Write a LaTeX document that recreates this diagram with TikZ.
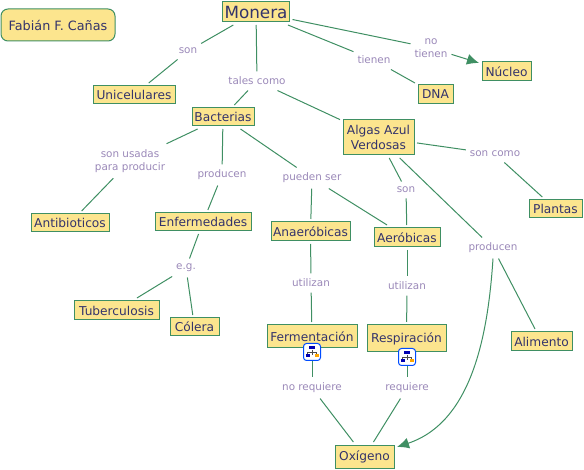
\documentclass[tikz,border=0pt]{standalone}
\usepackage{fontspec}
\setmainfont{DejaVu Sans}
\usetikzlibrary{arrows.meta}
\definecolor{fillc}{HTML}{FCE58E}
\definecolor{edgec}{HTML}{3F8F63}
\definecolor{inkc}{HTML}{33336B}
\definecolor{labc}{HTML}{9A88B8}
\tikzset{
 box/.style={draw=edgec,line width=1pt,fill=fillc,text=inkc,font=\fontsize{12.2}{14.5}\selectfont,align=center,inner sep=0pt,outer sep=3pt},
 lab/.style={text=labc,font=\fontsize{10.4}{13.5}\selectfont,align=center,inner sep=1pt,outer xsep=3pt,outer ysep=4.5pt},
 con/.style={edgec,line width=1pt},
 arr/.style={con,-{Latex[length=12pt,width=11pt,fill=edgec]}},
 ico/.pic={
  \draw[blue!70!cyan,fill=white,rounded corners=3pt,line width=1pt] (-8.5,-8.5) rectangle (8.5,8.5);
  \draw[black!70,line width=.6pt] (0,-2)--(0,3) (-4.5,3)--(-4.5,0.5)--(4.5,0.5)--(4.5,3);
  \fill[blue!70!black] (-3,-6) rectangle (3,-3);
  \fill[blue!70!black] (-6.5,2.5) rectangle (-2.5,5.5);
  \fill[orange!70!yellow] (2.5,2.5) rectangle (6.5,5.5);
 }
}
\begin{document}
\begin{tikzpicture}[x=1pt,y=-1pt]
\useasboundingbox (0,0) rectangle (584,470);
\newcommand{\cbox}[6]{\node[box,minimum width=#4 pt,minimum height=#5 pt] (#1) at (#2,#3) {#6};}
\cbox{monera}{256}{12}{67}{20}{\fontsize{16.8}{18}\selectfont Monera}
\node[box,rounded corners=7pt,minimum width=114pt,minimum height=32pt,font=\fontsize{12.8}{14}\selectfont] (author) at (58,25) {Fabián F. Cañas};
\cbox{uni}{134}{95}{82}{18}{Unicelulares}
\cbox{bac}{223}{117}{62}{18}{Bacterias}
\cbox{alg}{378.5}{137.5}{71}{35}{Algas Azul\\Verdosas}
\cbox{dna}{435.5}{94.5}{35}{19}{DNA}
\cbox{nuc}{506.5}{71.5}{49}{19}{Núcleo}
\cbox{pla}{555.5}{209}{53}{18}{Plantas}
\cbox{ant}{70}{223}{78}{18}{Antibioticos}
\cbox{enf}{203}{222}{96}{18}{Enfermedades}
\cbox{ana}{310.5}{231.5}{79}{19}{Anaeróbicas}
\cbox{aer}{407}{237.5}{66}{19}{Aeróbicas}
\cbox{tub}{116.5}{310.5}{85}{19}{Tuberculosis}
\cbox{col}{194.5}{327}{49}{18}{Cólera}
\cbox{fer}{312}{336.5}{90}{23}{Fermentación}
\cbox{res}{406.5}{338.5}{79}{27}{Respiración}
\cbox{ali}{541.5}{341.5}{61}{19}{Alimento}
\cbox{oxi}{364.5}{456.5}{59}{23}{Oxígeno}

\node[lab] (lson) at (188,51) {son};
\node[lab] (ltal) at (257,81) {tales como};
\node[lab] (lten) at (374,60) {tienen};
\node[lab] (lnot) at (431,48) {no\\tienen};
\node[lab] (lusa) at (130,161) {son usadas\\para producir};
\node[lab] (lpro) at (222,175) {producen};
\node[lab] (lpue) at (312,178) {pueden ser};
\node[lab] (lcom) at (495,154) {son como};
\node[lab] (lso2) at (406,190) {son};
\node[lab] (lpr2) at (493,248) {producen};
\node[lab] (leg) at (186,268) {e.g.};
\node[lab] (lut1) at (311,283) {utilizan};
\node[lab] (lut2) at (407,286) {utilizan};
\node[lab] (lnor) at (312,388) {no requiere};
\node[lab] (lreq) at (407,388) {requiere};
\coordinate (cfer) at (312,352);
\coordinate (cres) at (407,357);
\coordinate (tip) at (397,447);

\draw[con] (monera)--(lson);
\draw[con] (lson)--(uni);
\draw[con] (monera)--(ltal);
\draw[con] (ltal)--(bac);
\draw[con] (ltal)--(alg);
\draw[con] (monera)--(lten);
\draw[con] (lten)--(dna);
\draw[con] (monera)--(lnot);
\draw[arr] (lnot)--(nuc);
\draw[con] (bac)--(lusa);
\draw[con] (lusa)--(ant);
\draw[con] (bac)--(lpro);
\draw[con] (lpro)--(enf);
\draw[con] (bac)--(lpue);
\draw[con] (lpue)--(ana);
\draw[con] (lpue)--(aer);
\draw[con] (alg)--(lcom);
\draw[con] (lcom)--(pla);
\draw[con] (alg)--(lso2);
\draw[con] (lso2)--(aer);
\draw[con] (alg)--(lpr2);
\draw[con] (lpr2)--(ali);
\draw[arr] (lpr2.south) .. controls (488,335) and (472,422) .. (tip);
\draw[con] (enf)--(leg);
\draw[con] (leg)--(tub);
\draw[con] (leg)--(col);
\draw[con] (ana)--(lut1);
\draw[con] (lut1)--(fer);
\draw[con] (aer)--(lut2);
\draw[con] (lut2)--(res);
\draw[con] (cfer)--(lnor);
\draw[con] (cres)--(lreq);
\draw[con] (lnor)--(oxi);
\draw[con] (lreq)--(oxi);
\pic at (cfer) {ico};
\pic at (cres) {ico};
\end{tikzpicture}
\end{document}
